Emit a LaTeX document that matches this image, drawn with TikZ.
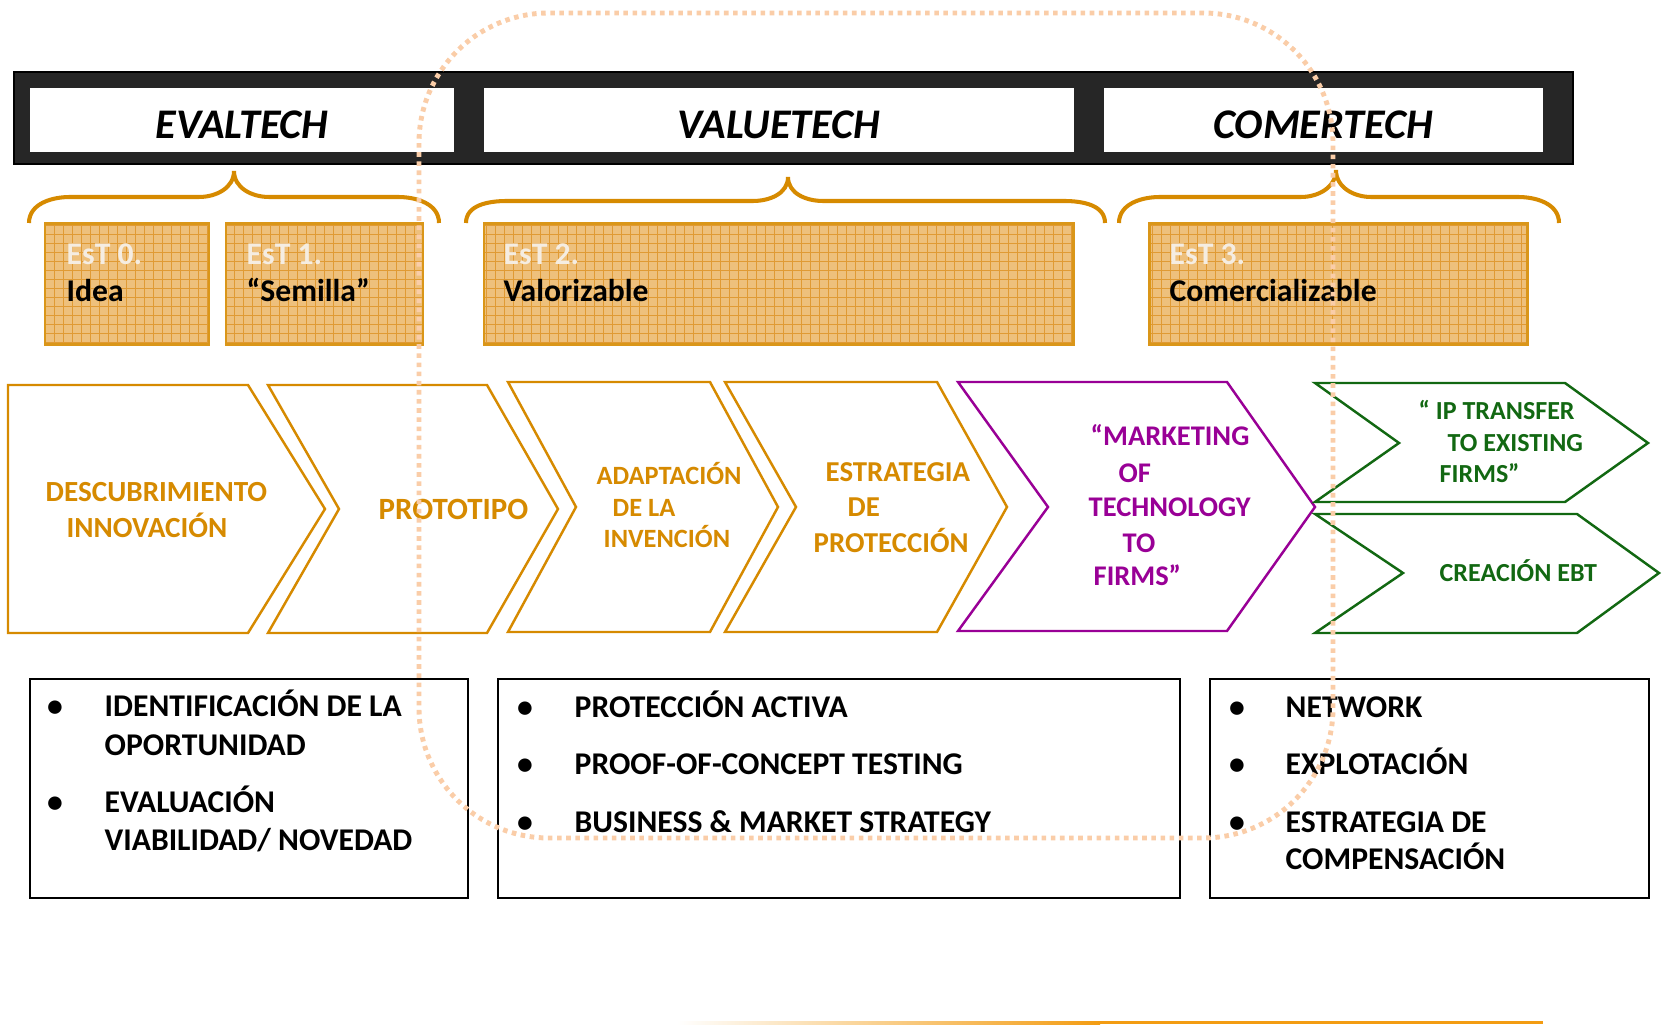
\documentclass[tikz,border=0pt]{standalone}
\usepackage{fontspec}
\setmainfont{Carlito}
\usepackage{tikz}

\definecolor{barfill}{RGB}{38,38,38}
\definecolor{ochre}{RGB}{214,138,0}
\definecolor{estfill}{RGB}{238,192,124}
\definecolor{estgrid}{RGB}{224,154,52}
\definecolor{estlabel}{RGB}{245,237,226}
\definecolor{mkpurple}{RGB}{153,0,150}
\definecolor{ipgreen}{RGB}{18,104,18}
\definecolor{peach}{RGB}{250,205,168}
\definecolor{lineorange}{RGB}{243,156,18}

\begin{document}
\begin{tikzpicture}[x=0.01cm, y=-0.01cm,
            titlefont/.style={font=\fontsize{12}{14}\selectfont\bfseries\itshape}, % phase titles
            brace/.style={draw=ochre, line width=1.15pt},
            estbox/.style={draw=ochre!90!white, line width=0.85pt},
            estlab/.style={anchor=base west, inner sep=0pt, text=estlabel, font=\fontsize{9}{11}\selectfont\bfseries},
            estname/.style={anchor=base west, inner sep=0pt, font=\fontsize{9}{11}\selectfont\bfseries},
            chev/.style={line width=0.7pt, fill=white},
            chevtext/.style={anchor=base west, inner sep=0pt},
            bulletbox/.style={draw=black, line width=0.75pt},
            item/.style={anchor=base west, inner sep=0pt, font=\fontsize{9}{11}\selectfont\bfseries},
            dot/.style={anchor=base, inner sep=0pt, font=\fontsize{9}{11}\selectfont\bfseries}
            ]
        \useasboundingbox (0,0) rectangle (1663,1025);

        % dark bar with the three phases
        \draw[fill=barfill, line width=0.4pt] (14,72) rectangle (1573,164);
        \foreach \xa/\xb in {30/454, 484/1074, 1104/1543}
            \fill[white] (\xa,88) rectangle (\xb,152);
        \node[titlefont] (evaltech) at (242,125) {EVALTECH};
        \node[titlefont] (valuetech) at (779,125) {VALUETECH};
        \node[titlefont] (comertech) at (1323,125) {COMERTECH};

        % curly braces under each phase
        \draw[brace] (29,223) to[out=90,in=180] (70,197) -- (199,197) to[out=0,in=-90] (234,171)
            to[out=-90,in=180] (269,197) -- (398,197) to[out=0,in=90] (439,223);
        \draw[brace] (466,223) to[out=90,in=180] (507,201) -- (753,201) to[out=0,in=-90] (788,177)
            to[out=-90,in=180] (823,201) -- (1064,201) to[out=0,in=90] (1105,223);
        \draw[brace] (1119,223) to[out=90,in=180] (1160,197) -- (1301,197) to[out=0,in=-90] (1336,170)
            to[out=-90,in=180] (1371,197) -- (1518,197) to[out=0,in=90] (1559,223);

        % stage boxes, filled with a fine grid
        \foreach \xa/\xb in {45/209, 226/423, 484/1073, 1149/1527} {
            \fill[estfill] (\xa,224) rectangle (\xb,345);
            \begin{scope}
                \clip (\xa,224) rectangle (\xb,345);
                \draw[estgrid, line width=0.25pt, step=0.9mm] (\xa,224) grid (\xb,345);
            \end{scope}
            \draw[estbox] (\xa,224) rectangle (\xb,345);
        }
        \node[estlab] (est0) at (66,265) {EsT 0.};
        \node[estname] (idea) at (66,302) {Idea};
        \node[estlab] (est1) at (246,265) {EsT 1.};
        \node[estname] (semilla) at (246,302) {“Semilla”};
        \node[estlab] (est2) at (503,265) {EsT 2.};
        \node[estname] (valor) at (503,302) {Valorizable};
        \node[estlab] (est3) at (1169,265) {EsT 3.};
        \node[estname] (comer) at (1169,302) {Comercializable};

        % process chevrons
        \draw[chev, draw=ochre] (8,385) -- (248,385) -- (325,509) -- (248,633) -- (8,633) -- cycle;
        \draw[chev, draw=ochre] (268,385) -- (487,385) -- (558,509) -- (487,633) -- (268,633) -- (339,509) -- cycle;
        \draw[chev, draw=ochre] (508,382) -- (710,382) -- (778,507) -- (710,632) -- (508,632) -- (576,507) -- cycle;
        \draw[chev, draw=ochre] (725,382) -- (937,382) -- (1007,507) -- (937,632) -- (725,632) -- (796,507) -- cycle;
        \draw[chev, draw=mkpurple] (958,382) -- (1227,382) -- (1315,507) -- (1227,631) -- (958,631) -- (1048,507) -- cycle;
        \draw[chev, draw=ipgreen] (1315,383) -- (1565,383) -- (1648,443) -- (1565,502) -- (1315,502) -- (1399,443) -- cycle;
        \draw[chev, draw=ipgreen] (1315,514) -- (1577,514) -- (1659,573) -- (1577,633) -- (1315,633) -- (1403,573) -- cycle;

        \begin{scope}[every node/.style={chevtext, text=ochre, font=\fontsize{8.3}{10}\selectfont\bfseries}]
            \node (desc) at (45,502) {DESCUBRIMIENTO};
            \node (innov) at (66,538) {INNOVACIÓN};
            \node[font=\fontsize{8.8}{10}\selectfont\bfseries] (proto) at (378,520) {PROTOTIPO};
            \node[font=\fontsize{7.5}{9}\selectfont\bfseries] (adap) at (596,485) {ADAPTACIÓN};
            \node[font=\fontsize{7.5}{9}\selectfont\bfseries] (dela) at (612,517) {DE LA};
            \node[font=\fontsize{7.5}{9}\selectfont\bfseries] (inven) at (603,548) {INVENCIÓN};
            \node[font=\fontsize{8.2}{10}\selectfont\bfseries] (estr) at (825,482) {ESTRATEGIA};
            \node[font=\fontsize{8.2}{10}\selectfont\bfseries] (de) at (847,517) {DE};
            \node[font=\fontsize{8.2}{10}\selectfont\bfseries] (prot) at (813,553) {PROTECCIÓN};
        \end{scope}
        \begin{scope}[every node/.style={chevtext, text=mkpurple, font=\fontsize{8.1}{10}\selectfont\bfseries}]
            \node (mkt) at (1090,446) {“MARKETING};
            \node (of) at (1118,483) {OF};
            \node (tech) at (1088,517) {TECHNOLOGY};
            \node (to) at (1122,553) {TO};
            \node (firms) at (1093,586) {FIRMS”};
        \end{scope}
        \begin{scope}[every node/.style={chevtext, text=ipgreen, font=\fontsize{7.4}{9}\selectfont\bfseries}]
            \node (iptr) at (1418,420) {“ IP TRANSFER};
            \node (toex) at (1447,452) {TO EXISTING};
            \node (exfirms) at (1439,483) {FIRMS”};
            \node (ebt) at (1439,582) {CREACIÓN EBT};
        \end{scope}

        % activity lists
        \draw[bulletbox] (30,679) rectangle (468,898);
        \draw[bulletbox] (498,679) rectangle (1180,898);
        \draw[bulletbox] (1210,679) rectangle (1649,898);

        \node[dot] (da1) at (55,717) {•};
        \node[dot] (da2) at (55,813) {•};
        \node[item] (ident) at (104,717) {IDENTIFICACIÓN DE LA};
        \node[item] (oport) at (104,756) {OPORTUNIDAD};
        \node[item] (evalu) at (104,813) {EVALUACIÓN};
        \node[item] (viab) at (104,851) {VIABILIDAD/ NOVEDAD};

        \node[dot] (db1) at (525,718) {•};
        \node[dot] (db2) at (525,775) {•};
        \node[dot] (db3) at (525,833) {•};
        \node[item] (protact) at (574,718) {PROTECCIÓN ACTIVA};
        \node[item] (proof) at (574,775) {PROOF-OF-CONCEPT TESTING};
        \node[item] (busin) at (574,833) {BUSINESS \& MARKET STRATEGY};

        \node[dot] (dc1) at (1237,718) {•};
        \node[dot] (dc2) at (1237,775) {•};
        \node[dot] (dc3) at (1237,833) {•};
        \node[item] (netw) at (1285,718) {NETWORK};
        \node[item] (explo) at (1285,775) {EXPLOTACIÓN};
        \node[item] (estde) at (1285,833) {ESTRATEGIA DE};
        \node[item] (compen) at (1285,870) {COMPENSACIÓN};

        % dotted outline around the valuation phase
        \draw[peach, line width=1.4pt, dash pattern=on 1.3pt off 1.3pt, rounded corners=1.3cm]
            (419,13) rectangle (1333,838);

        % rule along the bottom
        \shade[left color=white, right color=lineorange] (677,1021.5) rectangle (1100,1024.5);
        \fill[lineorange] (1100,1021.5) rectangle (1543,1024.5);

\end{tikzpicture}
\end{document}
